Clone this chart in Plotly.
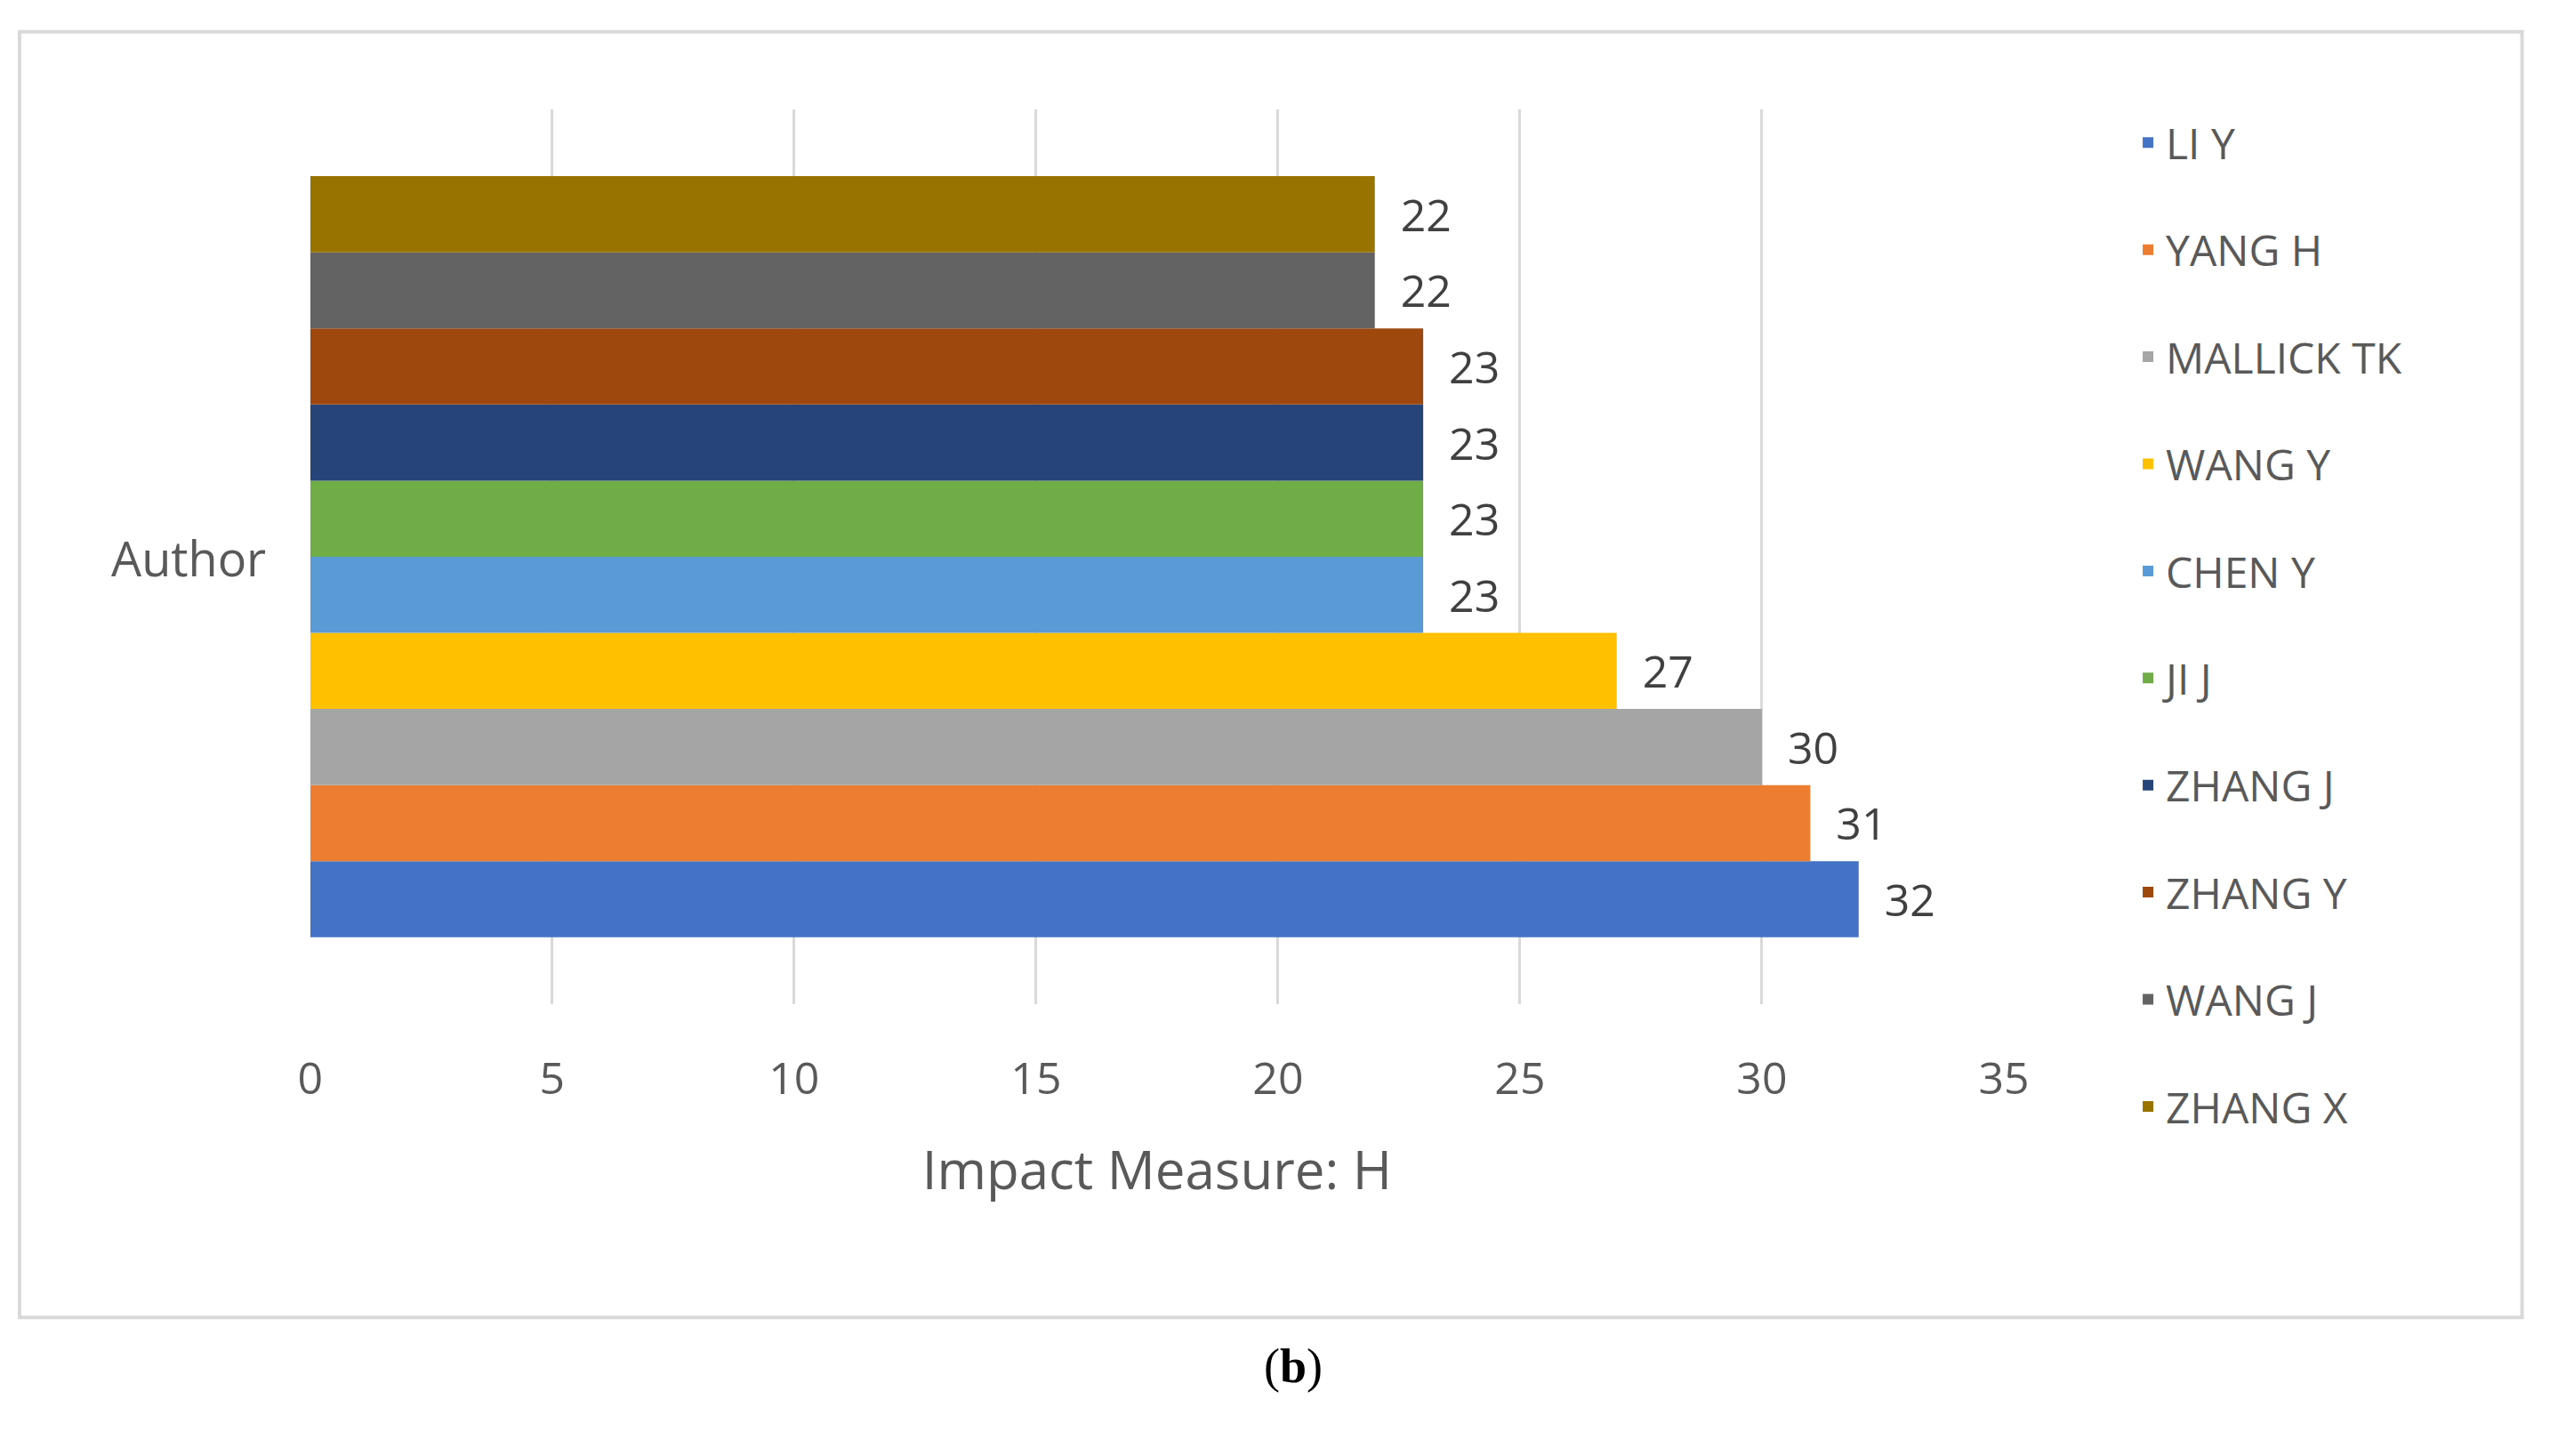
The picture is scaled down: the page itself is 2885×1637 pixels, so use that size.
import plotly.graph_objects as go

authors = ["LI Y", "YANG H", "MALLICK TK", "WANG Y", "CHEN Y",
           "JI J", "ZHANG J", "ZHANG Y", "WANG J", "ZHANG X"]
h_index = [32, 31, 30, 27, 23, 23, 23, 23, 22, 22]
colors = ["#4472C4", "#ED7D31", "#A5A5A5", "#FFC000", "#5B9BD5",
          "#70AD47", "#264478", "#9E480E", "#636363", "#997300"]
x_ticks = [0, 5, 10, 15, 20, 25, 30, 35]

font = "Open Sans, Liberation Sans, sans-serif"
fig = go.Figure()
for name, val, col in zip(authors, h_index, colors):
    fig.add_trace(go.Bar(
        y=["Author"], x=[val], name=name, orientation="h",
        marker=dict(color=col, line=dict(width=0)),
        text=["  " + str(val)], textposition="outside", cliponaxis=False,
        textfont=dict(size=50, color="#404040", family=font),
        legendgroup=name,
    ))

fig.update_layout(
    width=2885, height=1637,
    paper_bgcolor="white", plot_bgcolor="white",
    barmode="group", bargap=0.15, bargroupgap=0,
    margin=dict(l=0, r=0, t=0, b=0),
    font=dict(family=font, color="#595959"),
    xaxis=dict(domain=[0.115, 0.785], range=[0, 35], tickvals=x_ticks,
               showgrid=True, gridcolor="#d9d9d9", gridwidth=3, zeroline=False,
               tickfont=dict(size=50, color="#595959"), ticks="", ticklen=0,
               ticklabelstandoff=50,
               title=dict(text="Impact Measure: H", font=dict(size=60, color="#595959"), standoff=50)),
    yaxis=dict(domain=[0.315, 0.93], showticklabels=False, showgrid=False, zeroline=False),
    legend=dict(x=0.835, y=0.93, yanchor="top", traceorder="reversed+grouped",
                font=dict(size=48, color="#595959"), tracegroupgap=55,
                itemwidth=30, bgcolor="rgba(0,0,0,0)"),
    showlegend=True,
    shapes=[dict(type="rect", xref="paper", yref="paper", x0=0.0, x1=0.99,
                 y0=0.1, y1=0.983, line=dict(color="#d9d9d9", width=4))],
    annotations=[
        dict(text="Author", xref="paper", yref="paper", x=0.098, xanchor="right", y=0.622,
             showarrow=False, font=dict(size=54, color="#595959")),
        dict(text="(<b>b</b>)", xref="paper", yref="paper", x=0.504, y=0.047,
             showarrow=False, font=dict(size=54, color="black", family="Liberation Serif, serif")),
    ],
)
fig.write_html("out.html")
